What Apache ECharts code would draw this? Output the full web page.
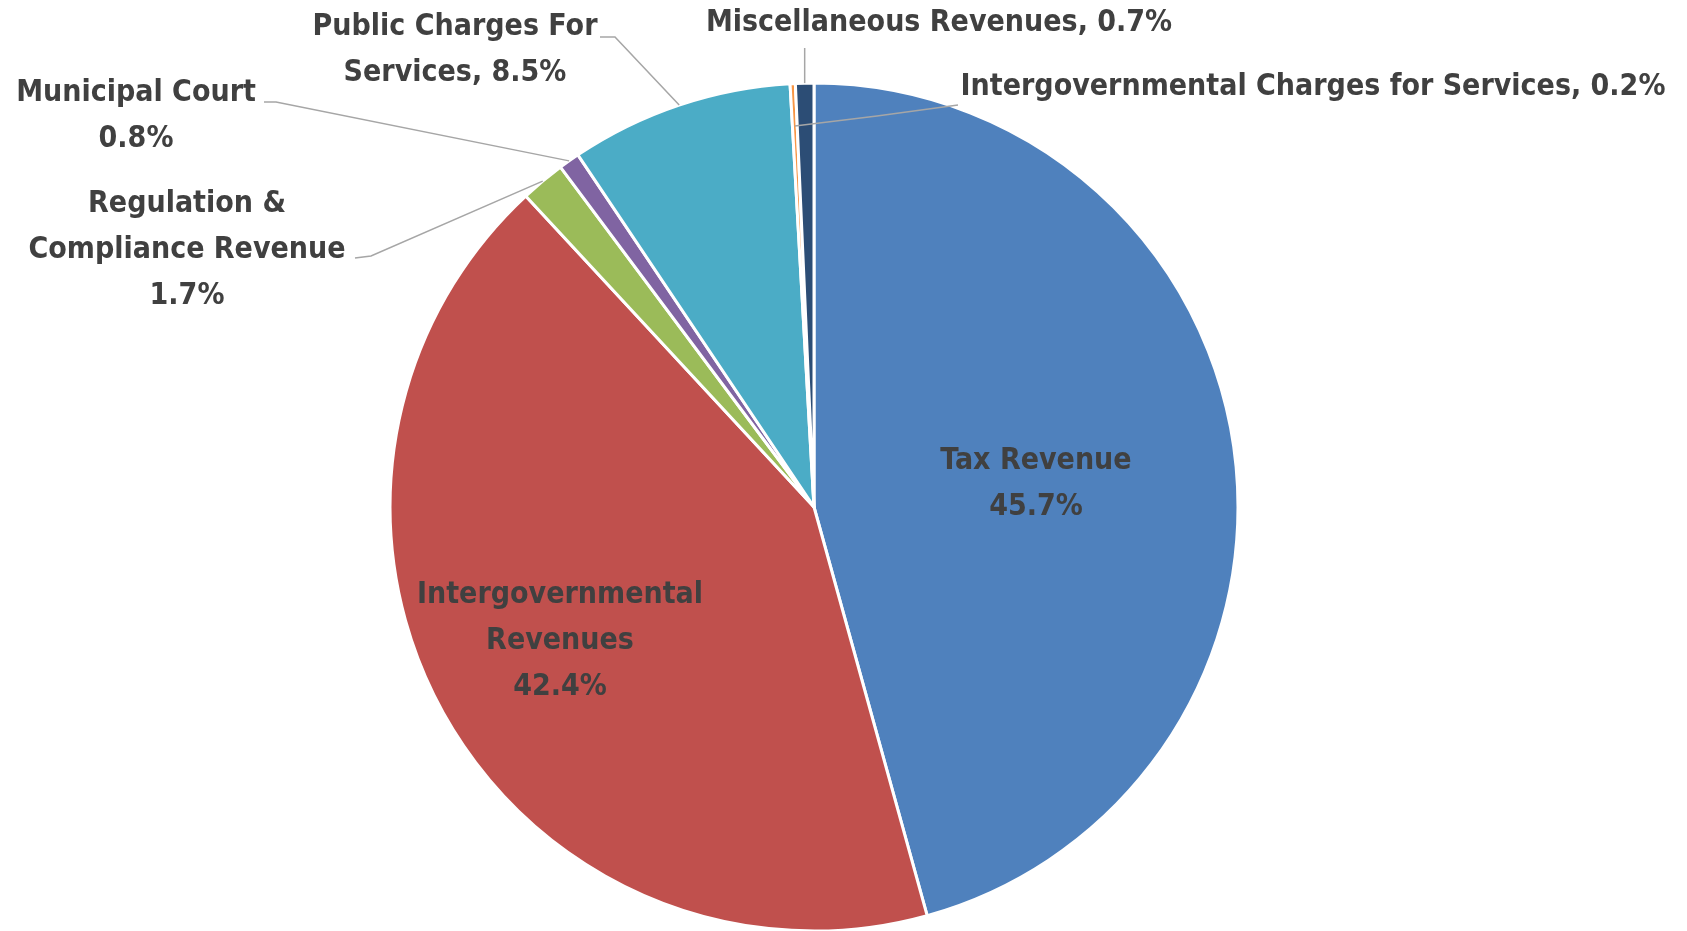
<!DOCTYPE html>
<html>
<head>
<meta charset="utf-8">
<script src="https://cdn.jsdelivr.net/npm/echarts@6/dist/echarts.min.js"></script>
<style>
html,body{margin:0;padding:0;background:#fff;}
#chart{width:1687px;height:931px;}
</style>
</head>
<body>
<div id="chart"></div>
<script>
// ---- data ----
const categories = [
  'Tax Revenue',
  'Intergovernmental\nRevenues',
  'Regulation &\nCompliance Revenue',
  'Municipal Court',
  'Public Charges For\nServices',
  'Intergovernmental Charges for Services',
  'Miscellaneous Revenues'
];
const values = [45.7, 42.4, 1.7, 0.8, 8.5, 0.2, 0.7];
const separators = ['\n', '\n', '\n', '\n', ', ', ', ', ', '];
const colors = ['#4F81BD', '#C0504D', '#9BBB59', '#8064A2', '#4BACC6', '#F79646', '#2C4D75'];

// ---- geometry / label layout (styling only) ----
const CX = 814, CY = 507, R = 424;
const total = values.reduce((a, b) => a + b, 0);
// point on the pie at the middle angle of slice i, at radius factor k
function midPoint(i, k) {
  let before = 0;
  for (let j = 0; j < i; j++) before += values[j];
  const f = (before + values[i] / 2) / total;
  const a = 2 * Math.PI * f;
  return [CX + k * R * Math.sin(a), CY - k * R * Math.cos(a)];
}
const labelPos = {
  0: {x: 1036, y: 484},
  1: {x: 560, y: 641},
  2: {x: 187, y: 250, line: (i) => [midPoint(i, 1), [371, 256], [355, 258]]},
  3: {x: 136, y: 116, line: (i) => [midPoint(i, 1), [276, 102], [264, 102]]},
  4: {x: 455, y: 50, line: (i) => [midPoint(i, 1), [615, 37], [600, 37]]},
  5: {x: 1313, y: 87, line: (i) => [midPoint(i, 0.9), [877, 116], [958, 105]]},
  6: {x: 939, y: 23, line: (i) => { const e = midPoint(i, 1); return [e, [e[0], 65], [e[0], 48]]; }}
};

const labelBase = {
  show: true,
  color: '#404040',
  fontFamily: '"DejaVu Sans Condensed", "DejaVu Sans", sans-serif',
  fontWeight: 'bold',
  fontSize: 30,
  lineHeight: 46,
  align: 'center',
  formatter: (p) => p.name + separators[p.dataIndex] + values[p.dataIndex].toFixed(1) + '%'
};
const labelLineBase = {
  show: true,
  length: 10,
  length2: 10,
  smooth: false,
  minTurnAngle: 0,
  maxSurfaceAngle: 180,
  lineStyle: {color: '#A6A6A6', width: 1.5}
};
function layoutFn(params) {
  const i = params.dataIndex;
  const L = labelPos[i];
  if (!L) return {};
  const out = {x: L.x, y: L.y, align: 'center', verticalAlign: 'middle'};
  if (L.line) out.labelLinePoints = L.line(i);
  return out;
}

// slices are drawn by the first series; outside labels + leader lines by a
// transparent copy on a higher z so the leader lines sit above all slices
const sliceData = categories.map((name, i) => {
  const inside = i < 2;
  return {
    name: name,
    value: values[i],
    itemStyle: {color: colors[i]},
    label: {show: inside, position: 'inside'},
    labelLine: {show: false}
  };
});
const outerData = categories.map((name, i) => {
  const outside = i >= 2;
  return {
    name: name,
    value: values[i],
    label: {show: outside, position: 'outside'},
    labelLine: {show: outside}
  };
});

const common = {
  type: 'pie',
  center: [CX, CY],
  radius: [0, R],
  startAngle: 90,
  clockwise: true,
  avoidLabelOverlap: false,
  emphasis: {disabled: true},
  label: labelBase,
  labelLine: labelLineBase,
  labelLayout: layoutFn
};

const chart = echarts.init(document.getElementById('chart'), null, {renderer: 'canvas'});
chart.setOption({
  animation: false,
  backgroundColor: '#ffffff',
  series: [
    Object.assign({}, common, {
      z: 2,
      data: sliceData,
      itemStyle: {borderColor: '#ffffff', borderWidth: 3}
    }),
    Object.assign({}, common, {
      z: 5,
      silent: true,
      data: outerData,
      itemStyle: {color: 'rgba(0,0,0,0)', borderWidth: 0}
    })
  ]
});
</script>
</body>
</html>
